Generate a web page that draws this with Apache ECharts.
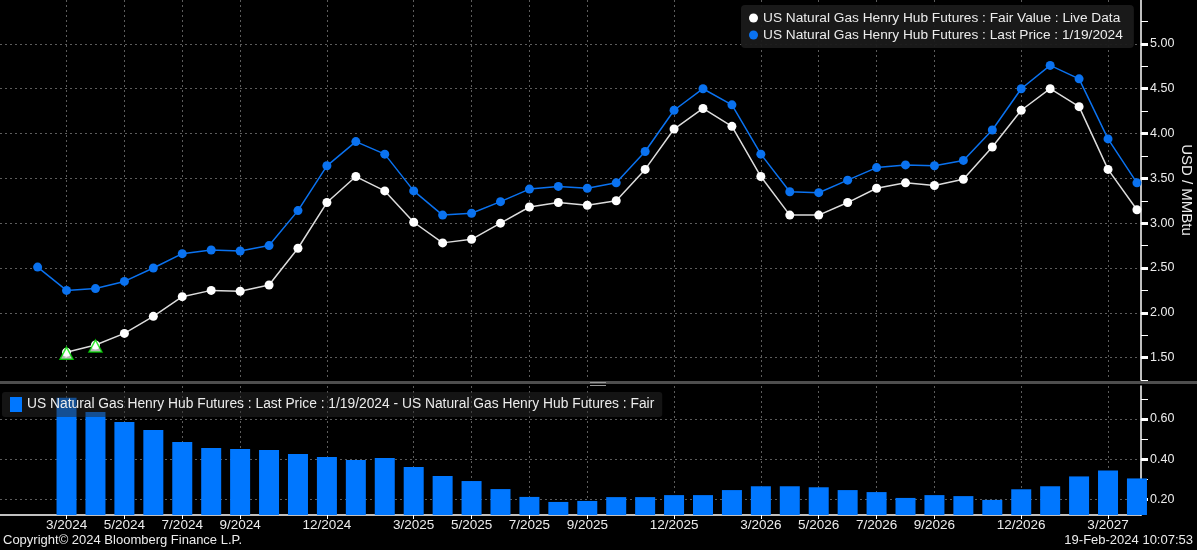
<!DOCTYPE html>
<html><head><meta charset="utf-8">
<script src="https://cdn.jsdelivr.net/npm/echarts@6/dist/echarts.min.js"></script>
<style>html,body{margin:0;padding:0;background:#000;overflow:hidden;}#c{width:1197px;height:550px;}</style>
</head><body><div id="c"></div>
<script>
// ---- data ----
const months = ['2/2024','3/2024','4/2024','5/2024','6/2024','7/2024','8/2024','9/2024','10/2024','11/2024','12/2024',
  '1/2025','2/2025','3/2025','4/2025','5/2025','6/2025','7/2025','8/2025','9/2025','10/2025','11/2025','12/2025',
  '1/2026','2/2026','3/2026','4/2026','5/2026','6/2026','7/2026','8/2026','9/2026','10/2026','11/2026','12/2026',
  '1/2027','2/2027','3/2027','4/2027'];
const lastPrice = [2.51,2.25,2.27,2.35,2.50,2.66,2.70,2.69,2.75,3.14,3.64,
  3.91,3.77,3.36,3.09,3.11,3.24,3.38,3.41,3.39,3.45,3.80,4.26,
  4.50,4.32,3.77,3.35,3.34,3.48,3.62,3.65,3.64,3.70,4.04,4.50,
  4.76,4.61,3.94,3.45];
const fairValue = [null,1.56,1.64,1.77,1.96,2.18,2.25,2.24,2.31,2.72,3.23,
  3.52,3.36,3.01,2.78,2.82,3.00,3.18,3.23,3.20,3.25,3.60,4.05,
  4.28,4.08,3.52,3.09,3.09,3.23,3.39,3.45,3.42,3.49,3.85,4.26,
  4.50,4.30,3.60,3.15];
const spread = [null,0.705,0.635,0.585,0.545,0.485,0.456,0.451,0.446,0.426,0.411,
  0.396,0.406,0.361,0.316,0.291,0.251,0.212,0.187,0.192,0.211,0.211,0.221,
  0.221,0.246,0.265,0.265,0.260,0.246,0.236,0.207,0.221,0.216,0.197,0.250,
  0.265,0.314,0.343,0.304];
const markerMonths = ['3/2024','4/2024'];
const xTickLabels = ['3/2024','5/2024','7/2024','9/2024','12/2024','3/2025','5/2025','7/2025','9/2025',
  '12/2025','3/2026','5/2026','7/2026','9/2026','12/2026','3/2027'];
const yTopMajor = [1.5,2.0,2.5,3.0,3.5,4.0,4.5,5.0];
const yTopMinor = [1.25,1.75,2.25,2.75,3.25,3.75,4.25,4.75,5.25];
const yBotMajor = [0.2,0.4,0.6];
const yBotMinor = [0.3,0.5,0.7];
const fairName = 'US Natural Gas Henry Hub Futures : Fair Value : Live Data';
const lastName = 'US Natural Gas Henry Hub Futures : Last Price : 1/19/2024';
const spreadName = 'US Natural Gas Henry Hub Futures : Last Price : 1/19/2024 - US Natural Gas Henry Hub Futures : Fair';
const copyrightText = 'Copyright\u00a9 2024 Bloomberg Finance L.P.';
const stampText = '19-Feb-2024 10:07:53';

// ---- chart ----
const FONT = 'Liberation Sans';
const txt = '#ececec';
const blue = '#0a72f0';
const barBlue = '#0077ff';
const gridLine = {show:true, lineStyle:{color:'#5c5c5c', type:[2,3], width:1}};
const xIdx = xTickLabels.map(l => months.indexOf(l));
const pairs = arr => arr.map((v,i) => [i, v]).filter(p => p[1] !== null);

const chart = echarts.init(document.getElementById('c'), null, {renderer:'canvas'});
const xBase = {type:'value', min:-1.3, max:38.14};
chart.setOption({
  backgroundColor:'#000',
  animation:false,
  textStyle:{fontFamily:FONT},
  grid:[
    {left:0, right:56, top:0, height:380, outerBoundsMode:'none', containLabel:false},
    {left:0, right:56, top:386, height:129, outerBoundsMode:'none', containLabel:false}
  ],
  xAxis:[
    Object.assign({}, xBase, {gridIndex:0,
      axisLine:{show:false, onZero:false}, axisTick:{show:false, customValues:xIdx},
      axisLabel:{show:false, customValues:xIdx}, splitLine:gridLine}),
    Object.assign({}, xBase, {gridIndex:1,
      axisLine:{show:true, onZero:false, lineStyle:{color:'#fff', width:1.5}},
      axisTick:{show:true, customValues:xIdx, length:4, lineStyle:{color:'#fff'}},
      axisLabel:{customValues:xIdx, formatter:v => months[Math.round(v)], color:txt, fontSize:13.5, margin:3, fontFamily:FONT},
      splitLine:gridLine})
  ],
  yAxis:[
    {type:'value', gridIndex:0, position:'right', min:1.25, max:5.49,
      axisLine:{show:true, onZero:false, lineStyle:{color:'#fff', width:1.5}},
      axisTick:{show:true, customValues:yTopMajor, length:7, lineStyle:{color:'#fff', width:3}},
      axisLabel:{customValues:yTopMajor, formatter:v => v.toFixed(2), color:txt, fontSize:12.5, margin:9, fontFamily:FONT},
      splitLine:gridLine,
      name:'USD / MMBtu', nameLocation:'middle', nameRotate:-90, nameGap:38, nameMoveOverlap:false,
      nameTextStyle:{color:txt, fontSize:15, fontFamily:FONT}},
    {type:'value', gridIndex:0, position:'right', offset:0, min:1.25, max:5.49,
      axisLine:{show:false, onZero:false}, axisTick:{show:true, customValues:yTopMinor, length:7, lineStyle:{color:'#fff', width:1}},
      axisLabel:{show:false}, splitLine:{show:false}},
    {type:'value', gridIndex:1, position:'right', min:0.122, max:0.764,
      axisLine:{show:true, onZero:false, lineStyle:{color:'#fff', width:1.5}},
      axisTick:{show:true, customValues:yBotMajor, length:7, lineStyle:{color:'#fff', width:3}},
      axisLabel:{customValues:yBotMajor, formatter:v => v.toFixed(2), color:txt, fontSize:12.5, margin:9, fontFamily:FONT},
      splitLine:gridLine},
    {type:'value', gridIndex:1, position:'right', offset:0, min:0.122, max:0.764,
      axisLine:{show:false, onZero:false}, axisTick:{show:true, customValues:yBotMinor, length:7, lineStyle:{color:'#fff', width:1}},
      axisLabel:{show:false}, splitLine:{show:false}}
  ],
  legend:[
    {data:[fairName, lastName], orient:'vertical', left:741, top:5, itemGap:3,
      icon:'circle', itemWidth:9, itemHeight:9,
      textStyle:{color:txt, fontSize:13.7, fontFamily:FONT},
      backgroundColor:'rgba(26,26,26,0.95)', borderRadius:4, padding:[6,11,6,8]},
    {data:[spreadName], left:2, top:392, icon:'rect', itemWidth:12, itemHeight:15,
      textStyle:{color:txt, fontSize:13.8, fontFamily:FONT},
      backgroundColor:'rgba(40,40,40,0.5)', borderRadius:3, padding:[5,8,5,8]}
  ],
  series:[
    {name:fairName, type:'line', xAxisIndex:0, yAxisIndex:0, data:pairs(fairValue),
      symbol:'circle', symbolSize:9, color:'#ffffff', lineStyle:{width:1.5, color:'#dcdcdc'}},
    {name:lastName, type:'line', xAxisIndex:0, yAxisIndex:0, data:pairs(lastPrice),
      symbol:'circle', symbolSize:9, color:blue, lineStyle:{width:1.5}},
    {name:'markers', type:'scatter', xAxisIndex:0, yAxisIndex:0,
      data:markerMonths.map(m => { const i = months.indexOf(m); return [i, fairValue[i]]; }),
      symbol:'triangle', symbolSize:[13,12], symbolOffset:[0,1],
      itemStyle:{color:'rgba(255,255,255,0.9)', borderColor:'#00dd00', borderWidth:1.5}, z:5},
    {name:spreadName, type:'bar', xAxisIndex:1, yAxisIndex:2, data:pairs(spread),
      barWidth:20, color:barBlue}
  ],
  graphic:[
    {type:'rect', left:0, top:381, shape:{width:1197, height:3}, style:{fill:'#4e4e4e'}, silent:true},
    {type:'rect', left:590, top:382, shape:{width:16, height:1}, style:{fill:'#9a9a9a'}, silent:true},
    {type:'rect', left:590, top:385, shape:{width:16, height:1}, style:{fill:'#9a9a9a'}, silent:true},
    {type:'text', left:3, top:534, style:{text:copyrightText, fill:txt, font:'13px "Liberation Sans"'}},
    {type:'text', right:4, top:534, style:{text:stampText, fill:txt, font:'13px "Liberation Sans"'}}
  ]
});
</script></body></html>
